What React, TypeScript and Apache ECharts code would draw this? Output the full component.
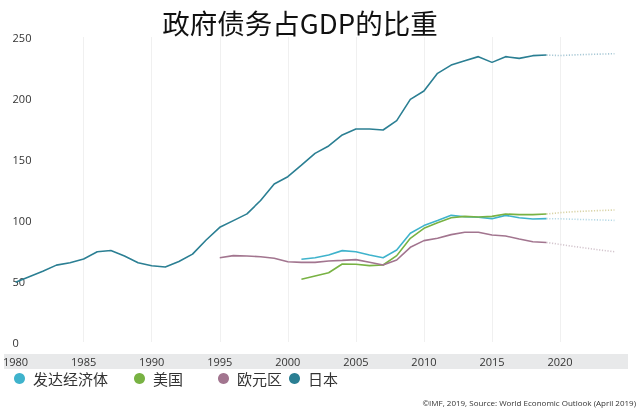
import React, { useEffect, useRef } from "react";
import * as echarts from "echarts";

const TITLE = "政府债务占GDP的比重";
const SOURCE = "©IMF, 2019, Source: World Economic Outlook (April 2019)";

const NAMES = ["发达经济体", "美国", "欧元区", "日本"];
const COLORS = ["#3fb3cc", "#78b243", "#a2758f", "#2b7f93"];
const PROJ_COLORS = ["#b6d9e6", "#d9d3a6", "#d4c6ce", "#a9c9d6"];

// historical data (start year, values)
const AE_START = 2001;
const AE = [67.8, 69.1, 71.3, 74.9, 74.0, 71.3, 69.1, 75.4, 89.1, 95.4, 99.5, 103.8, 102.7, 102.2, 101.1, 103.8, 101.9, 100.8, 101.1];
const US_START = 2001;
const US = [51.4, 54.1, 56.8, 63.9, 63.7, 62.6, 63.1, 70.8, 85.0, 93.2, 97.8, 101.9, 103.0, 102.5, 103.0, 104.9, 104.4, 104.4, 104.9];
const EA_START = 1995;
const EA = [69.1, 70.8, 70.5, 69.9, 68.6, 65.8, 65.3, 65.3, 66.4, 66.9, 67.5, 65.3, 63.1, 67.2, 77.6, 83.1, 85.0, 88.0, 89.9, 89.9, 87.7, 86.9, 84.4, 82.2, 81.6];
const JP_START = 1980;
const JP = [49, 53.5, 58, 63, 65, 68, 74, 75, 70.5, 65, 62.5, 61.5, 66, 72, 83.6, 94, 99.5, 105, 116, 129.5, 135.5, 145, 154.6, 160.7, 169.7, 174.6, 174.6, 173.8, 181.4, 198.9, 205.7, 220.2, 227, 230.6, 233.9, 229.2, 233.9, 232.5, 234.7, 235.2];

// projections 2019-2024
const PROJ_START = 2019;
const AE_PROJ = [101.1, 101.0, 100.6, 100.3, 100.0, 99.7];
const US_PROJ = [104.9, 106.0, 106.8, 107.3, 107.8, 108.2];
const EA_PROJ = [81.6, 80.0, 78.3, 76.8, 75.3, 74.0];
const JP_PROJ = [235.2, 234.8, 235.3, 235.7, 236.0, 236.3];

const X_MIN = 1980;
const X_MAX = 2024;
const X_INTERVAL = 5;
const Y_MIN = 0;
const Y_MAX = 250;
const Y_INTERVAL = 50;

const toPairs = (start: number, vals: number[]) => vals.map((v, i) => [start + i, v]);

const HIST = [toPairs(AE_START, AE), toPairs(US_START, US), toPairs(EA_START, EA), toPairs(JP_START, JP)];
const PROJ = [AE_PROJ, US_PROJ, EA_PROJ, JP_PROJ].map((p) => toPairs(PROJ_START, p));

const LEGEND_LEFT = [14, 134, 218, 289];

export default function App() {
  const ref = useRef<HTMLDivElement>(null);
  useEffect(() => {
    if (!ref.current) return;
    const chart = echarts.init(ref.current, undefined, { renderer: "svg" });
    const font = "'Open Sans', 'Noto Sans CJK SC', sans-serif";
    const series: any[] = [];
    NAMES.forEach((n, i) => {
      series.push({
        name: n,
        type: "line",
        data: HIST[i],
        showSymbol: false,
        symbol: "circle",
        lineStyle: { width: 1.6, color: COLORS[i] },
        itemStyle: { color: COLORS[i] },
        z: 3 + i,
      });
      series.push({
        name: n + "预测",
        type: "line",
        data: PROJ[i],
        showSymbol: false,
        lineStyle: { width: 1.6, color: PROJ_COLORS[i], type: [1.2, 1.6] },
        itemStyle: { color: PROJ_COLORS[i] },
        z: 2,
      });
    });
    chart.setOption({
      animation: false,
      textStyle: { fontFamily: font },
      grid: { left: 15, right: 25.5, top: 37, bottom: 75, containLabel: false },
      xAxis: {
        type: "value",
        min: X_MIN,
        max: X_MAX,
        interval: X_INTERVAL,
        axisLine: { show: false },
        axisTick: { show: false },
        axisLabel: {
          color: "#333",
          fontSize: 11,
          margin: 14,
          showMaxLabel: false,
          formatter: (v: number) => String(v),
        },
        splitLine: { show: true, showMaxLine: false, showMinLine: false, lineStyle: { color: "#f0f0f0", width: 1 } },
      },
      yAxis: {
        type: "value",
        min: Y_MIN,
        max: Y_MAX,
        interval: Y_INTERVAL,
        axisLine: { show: false },
        axisTick: { show: false },
        splitLine: { show: false },
        axisLabel: { color: "#333", fontSize: 11, align: "left", margin: 3 },
      },
      legend: NAMES.map((n, i) => ({
        data: [n],
        left: LEGEND_LEFT[i],
        top: 371,
        icon: "circle",
        itemWidth: 11,
        itemHeight: 11,
        padding: 0,
        textStyle: { fontSize: 15, color: "#333", fontFamily: "'Noto Sans CJK SC', sans-serif", padding: [0, 0, 0, 3] },
        selectedMode: false,
      })),
      graphic: [
        {
          type: "text",
          x: 300,
          y: 8,
          style: {
            text: TITLE,
            textAlign: "center",
            fontFamily: "'Noto Sans CJK SC', sans-serif",
            fontSize: 27.5,
            fill: "#111",
          },
        },
        {
          type: "rect",
          left: 4,
          top: 354,
          z: -10,
          silent: true,
          shape: { width: 624, height: 15 },
          style: { fill: "#e8e9ea" },
        },
        {
          type: "text",
          right: 4,
          top: 398,
          style: { text: SOURCE, fontSize: 8, fill: "#333", fontFamily: font },
        },
      ],
      series,
    });
    return () => chart.dispose();
  }, []);
  return <div ref={ref} style={{ position: "fixed", left: 0, top: 0, width: 640, height: 417 }} />;
}
